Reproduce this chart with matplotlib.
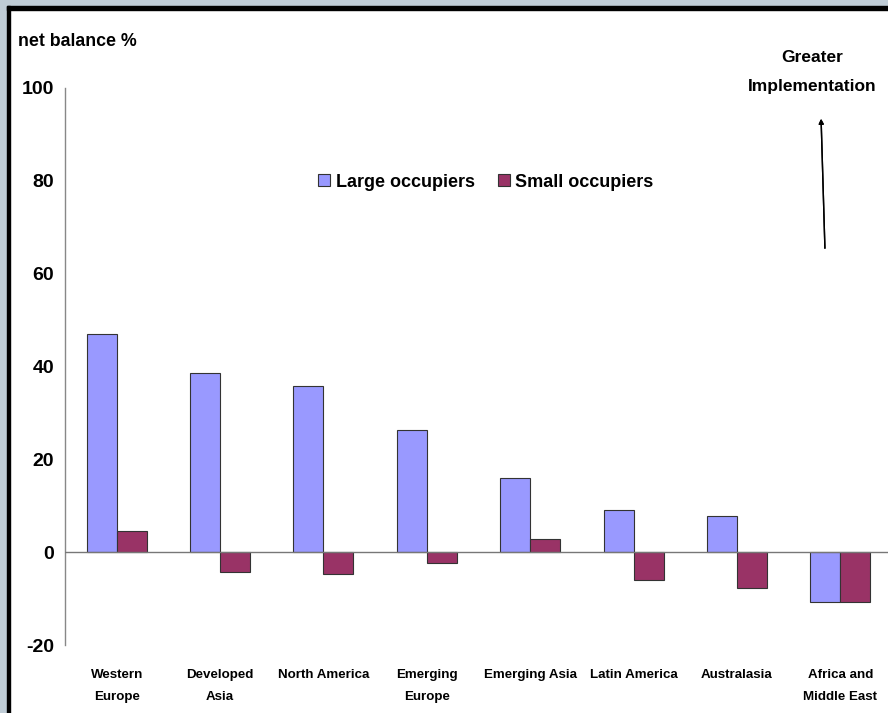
import matplotlib
matplotlib.use("Agg")
import matplotlib.pyplot as plt
from matplotlib.patches import Rectangle
import numpy as np

regions = ["Western\nEurope", "Developed\nAsia", "North America", "Emerging\nEurope",
           "Emerging Asia", "Latin America", "Australasia", "Africa and\nMiddle East"]
large_occupiers = [46.9, 38.5, 35.8, 26.3, 15.9, 9.0, 7.7, -10.8]
small_occupiers = [4.6, -4.3, -4.7, -2.4, 2.8, -5.9, -7.7, -10.8]
y_ticks = [-20, 0, 20, 40, 60, 80, 100]

plt.rcParams["font.family"] = ["Liberation Sans", "DejaVu Sans"]
plt.rcParams["font.weight"] = "bold"

W, H = 888, 713
fig = plt.figure(figsize=(W / 100, H / 100), dpi=100)
fig.patch.set_facecolor("white")

# Window-style frame: grey band with a dark inner rule on the left and top
frame_col = "#BFCCD6"
fig.patches.append(Rectangle((0, 0), 7 / W, 1, transform=fig.transFigure, color=frame_col, zorder=0))
fig.patches.append(Rectangle((0, 1 - 6 / H), 1, 6 / H, transform=fig.transFigure, color=frame_col, zorder=0))
fig.patches.append(Rectangle((7 / W, 0), 3 / W, 1 - 6 / H, transform=fig.transFigure, color="black", zorder=1))
fig.patches.append(Rectangle((7 / W, 1 - 10 / H), 1, 4 / H, transform=fig.transFigure, color="black", zorder=1))

ax = fig.add_axes([65 / W, 1 - 645 / H, (892 - 65) / W, (645 - 88) / H])
ax.set_facecolor("none")

x = np.arange(len(regions))
bw = 0.29
ax.bar(x - bw / 2, large_occupiers, bw, color="#9999FF", edgecolor="#333333", linewidth=0.8,
       label="Large occupiers", zorder=2)
ax.bar(x + bw / 2, small_occupiers, bw, color="#993366", edgecolor="#333333", linewidth=0.8,
       label="Small occupiers", zorder=2)
ax.axhline(0, color="#777777", linewidth=1.0, zorder=3)

ax.set_xlim(-0.5, len(regions) - 0.5)
ax.set_ylim(-20, 100)
ax.set_yticks(y_ticks)
ax.set_yticklabels([str(v) for v in y_ticks], fontsize=14, fontweight="bold")
ax.set_xticks(x)
ax.set_xticklabels(regions, fontsize=9.6, fontweight="bold", linespacing=2.15, va="top")
ax.tick_params(axis="both", length=0)
ax.tick_params(axis="y", pad=8)
ax.tick_params(axis="x", pad=17)
for s in ["top", "right", "bottom"]:
    ax.spines[s].set_visible(False)
ax.spines["left"].set_color("#888888")
ax.spines["left"].set_linewidth(1.0)

ax.legend(loc="center", bbox_to_anchor=(0.509, 0.831), ncol=2, frameon=False,
          prop={"size": 13, "weight": "bold"}, handlelength=0.65, handleheight=0.65,
          handletextpad=0.3, columnspacing=1.3)

fig.text(18 / W, 1 - 41 / H, "net balance %", fontsize=12.8, fontweight="bold", va="center", ha="left")
fig.text(812 / W, 1 - 58 / H, "Greater", fontsize=12.5, fontweight="bold", va="center", ha="center")
fig.text(812 / W, 1 - 86 / H, "Implementation", fontsize=12.5, fontweight="bold", va="center", ha="center")
fig.add_artist(plt.annotate("", xy=(821 / W, 1 - 116 / H), xytext=(825 / W, 1 - 251 / H),
                            xycoords="figure fraction", textcoords="figure fraction",
                            arrowprops=dict(arrowstyle="-|>", color="black", lw=1.0,
                                            mutation_scale=7)))

fig.savefig("out.png", dpi=100)
